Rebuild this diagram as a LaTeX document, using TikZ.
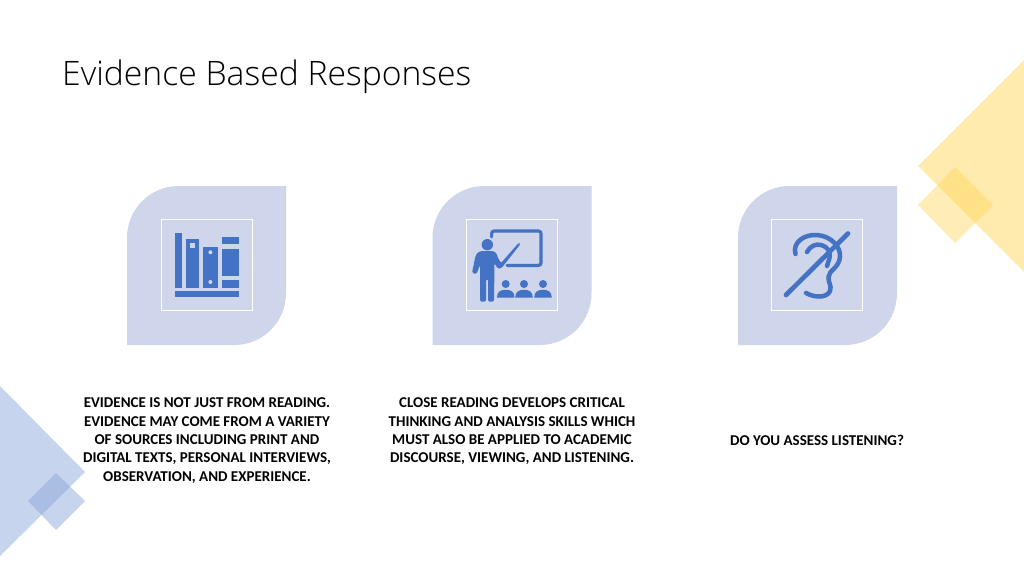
\documentclass[tikz,border=0pt]{standalone}
\usepackage{fontspec}
\setmainfont{Carlito}
\newfontfamily\titlefont{Open Sans Light}
\tikzset{
  leaf/.style={fill=leafc,draw=none},
  frameb/.style={draw=white,line width=0.8pt,fill=none,minimum width=91pt,minimum height=91pt,inner sep=0pt},
  ink/.style={fill=inkc,draw=none},
  inkline/.style={draw=inkc,line cap=round,line join=round},
  captext/.style={font=\fontsize{15}{18.3}\selectfont\bfseries,align=center,text=black,inner sep=0pt}
}
\definecolor{leafc}{HTML}{CFD5EA}
\definecolor{inkc}{HTML}{4472C4}
\definecolor{yel}{HTML}{FFD34D}
\definecolor{blu}{HTML}{8FAADC}
\newcommand{\leafshape}[2]{%
  \fill[leaf] (#1+52,#2) -- (#1+159,#2) -- (#1+159,#2+107)
  .. controls (#1+159,#2+136) and (#1+136,#2+159) .. (#1+107,#2+159) -- (#1,#2+159) -- (#1,#2+52)
  .. controls (#1,#2+23) and (#1+23,#2) .. (#1+52,#2) -- cycle;}
\begin{document}
\begin{tikzpicture}[x=1pt,y=-1pt]
\useasboundingbox (0,0) rectangle (1024,576);
\fill[white] (0,0) rectangle (1024,576);
% decorations
\fill[yel,opacity=.45] (918,166) -- (1024,60) -- (1024,272) -- cycle;
\fill[yel,opacity=.4] (918,205) -- (955,167) -- (993,205) -- (955,243) -- cycle;
\fill[blu,opacity=.5] (0,386) -- (85,472) -- (0,556) -- cycle;
\fill[blu,opacity=.5] (28,501) -- (56,473) -- (85,501) -- (56,530) -- cycle;
\node[anchor=base west,inner sep=0pt,font=\titlefont\fontsize{33.7}{36}\selectfont,text=black] (title) at (62,85) {Evidence Based Responses};
% leaves
\leafshape{127}{186}
\leafshape{432.5}{186}
\leafshape{738}{186}
\node[frameb] (f1) at (206.5,265) {};
\node[frameb] (f2) at (512,265) {};
\node[frameb] (f3) at (817,265) {};
% books
\fill[ink] (175,233) rectangle (182,288);
\fill[ink] (186,239) rectangle (199,288);
\fill[leafc] (190,243) rectangle (195,248);
\fill[ink] (203,246.5) rectangle (218,288);
\fill[leafc] (210.4,252.3) circle (2) (210.4,282) circle (2);
\fill[ink] (222,237) rectangle (239,244);
\fill[ink] (222,249) rectangle (239,276);
\fill[ink] (222,280) rectangle (239,288);
\fill[ink] (175,291) rectangle (239,297);
% teacher
\draw[inkline,line width=3.2pt,rounded corners=2.5pt] (491.6,237) -- (491.6,231) -- (541,231) -- (541,265.4) -- (507,265.4);
\fill[ink] (487.3,244.7) circle (5.7);
\fill[ink,rounded corners=1.5pt] (475.5,256) -- (478,252) -- (482,251) -- (493,251) -- (496,252.5) -- (498.5,259) -- (501,263) -- (519,242.5) -- (520.5,244) -- (504,265) -- (501,268.5) -- (497.5,268.5) -- (494.5,263) -- (494,301.7) -- (488,301.7) -- (488,279) -- (486,279) -- (486,301.7) -- (480,301.7) -- (480,265) -- (476.5,274) -- (472,273) -- cycle;
\foreach \cx in {505.7,524,543}{
  \fill[ink] (\cx,284) circle (4);
  \fill[ink] (\cx-8.8,297.7) .. controls (\cx-8.8,291.5) and (\cx-5,289.8) .. (\cx,289.8) .. controls (\cx+5,289.8) and (\cx+8.8,291.5) .. (\cx+8.8,297.7) -- cycle;
}
% ear
\draw[inkline,line width=4.5pt] (795.5,254) .. controls (792,242) and (805,234) .. (817,235) .. controls (832,236) and (841,248) .. (840,257) .. controls (839,268) and (829,270) .. (828.5,277) .. controls (828,283) and (832,285) .. (830,291) .. controls (827,298) and (815,298) .. (806,293);
\draw[inkline,line width=4.5pt] (807,252) .. controls (810,246) and (816,243.5) .. (821,245) .. controls (828,247) and (831,252) .. (829.5,258) -- (827,266);
\draw[inkline,line width=4.7pt] (786,295) -- (848,233.5);
% captions
\node[captext] (c1) at (207,440.5) {EVIDENCE IS NOT JUST FROM READING.\\EVIDENCE MAY COME FROM A VARIETY\\OF SOURCES INCLUDING PRINT AND\\DIGITAL TEXTS, PERSONAL INTERVIEWS,\\OBSERVATION, AND EXPERIENCE.};
\node[captext] (c2) at (512,431.5) {CLOSE READING DEVELOPS CRITICAL\\THINKING AND ANALYSIS SKILLS WHICH\\MUST ALSO BE APPLIED TO ACADEMIC\\DISCOURSE, VIEWING, AND LISTENING.};
\node[captext] (c3) at (817,440.5) {DO YOU ASSESS LISTENING?};
\end{tikzpicture}
\end{document}
